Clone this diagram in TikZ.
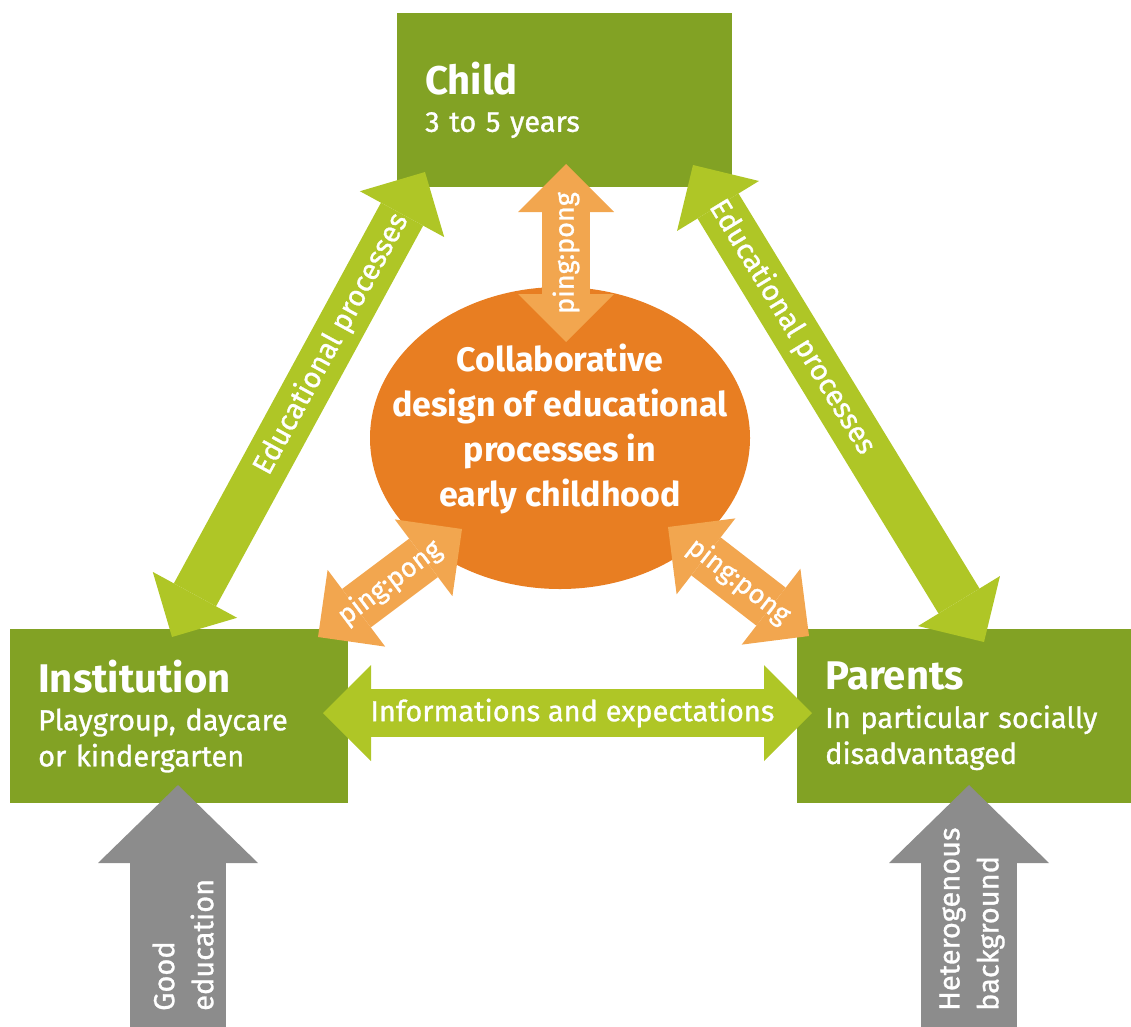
\documentclass[tikz,border=0pt]{standalone}
\usepackage{fontspec}
\setmainfont{Fira Sans}[UprightFeatures={FakeBold=1.0}]
\usetikzlibrary{calc,positioning,shapes.geometric,arrows.meta}

\definecolor{boxgreen}{HTML}{82A224}
\definecolor{arrowgreen}{HTML}{AFC626}
\definecolor{bigorange}{HTML}{E87E22}
\definecolor{pingorange}{HTML}{F2A64F}
\definecolor{bggray}{HTML}{8C8C8C}

\newcommand{\boxhead}[1]{{\fontsize{40}{40}\selectfont\bfseries #1}}

\begin{document}
\begin{tikzpicture}[
            x=1pt, y=-1pt,
            every node/.append style={text=white, inner sep=0pt},
            box/.style={fill=boxgreen, anchor=north west, align=left, inner xsep=28pt,
                minimum height=174pt, font=\fontsize{29}{36}\selectfont},
            bubble/.style={ellipse, fill=bigorange, minimum width=380pt, minimum height=302pt},
            bubbletext/.style={align=center, font=\fontsize{34}{45}\selectfont\bfseries},
            eduarrow/.style={draw=arrowgreen, line width=48pt,
                arrows={Triangle[length=48pt,width=96pt,line width=0pt]-Triangle[length=48pt,width=96pt,line width=0pt]}},
            pingarrow/.style={eduarrow, draw=pingorange},
            bgarrow/.style={draw=bggray, line width=96pt,
                arrows={-Triangle[length=78pt,width=160pt,line width=0pt]}},
            lbl/.style={sloped, font=\fontsize{29}{29}\selectfont},
            pinglbl/.style={sloped, font=\fontsize{27}{27}\selectfont},
            bgtext/.style={rotate=90, anchor=west, align=left, font=\fontsize{29}{39}\selectfont}
        ]
            \useasboundingbox (0,0) rectangle (1131,1026);

            % the three partners
            \node[box, text width=279pt] (child) at (397,13) {\boxhead{Child}\\[1pt]3 to 5 years};
            \node[box, text width=282pt] (inst) at (10,629) {\boxhead{Institution}\\[2pt]Playgroup, daycare\\or kindergarten};
            \node[box, text width=278pt] (parents) at (797,629) {\boxhead{Parents}\\[2pt]In particular socially\\disadvantaged};

            \node[bubble] (designbg) at (560,438) {};
            \node[bubbletext] (design) at (560,429) {Collaborative\\design of educational\\processes in\\early childhood};

            \coordinate (eduL1) at (172,637);
            \coordinate (eduL2) at (425,172);
            \coordinate (eduR1) at (693,165);
            \coordinate (eduR2) at (984,642);
            \coordinate (infoL) at (323,713);
            \coordinate (infoR) at (812,713);

            \draw[eduarrow] (eduL1) -- node[lbl, pos=0.63]{Educational processes} (eduL2);
            \draw[eduarrow] (eduR1) -- node[lbl, pos=0.34]{Educational processes} (eduR2);
            \draw[eduarrow] (infoL) -- node[lbl, pos=0.51]{Informations and expectations} (infoR);

            % ping:pong with the middle
            \coordinate (ppC1) at (566,342);
            \coordinate (ppC2) at (566,164);
            \coordinate (ppL1) at (318,637);
            \coordinate (ppL2) at (462,529);
            \coordinate (ppR1) at (668,527);
            \coordinate (ppR2) at (809,636);

            \draw[pingarrow] (ppC1) -- node[pinglbl]{ping:pong} (ppC2);
            \draw[pingarrow] (ppL1) -- node[pinglbl]{ping:pong} (ppL2);
            \draw[pingarrow] (ppR1) -- node[pinglbl]{ping:pong} (ppR2);

            % background
            \coordinate (goodB) at (178,1040);
            \coordinate (goodT) at (178,785);
            \coordinate (hetB) at (969,1040);
            \coordinate (hetT) at (969,785);

            \draw[bgarrow] (goodB) -- (goodT);
            \draw[bgarrow] (hetB) -- (hetT);
            \node[bgtext] (goodtxt) at (183,1011) {Good\\education};
            \node[bgtext] (hettxt) at (972,1011) {Heterogenous\\background};
        \end{tikzpicture}
\end{document}
